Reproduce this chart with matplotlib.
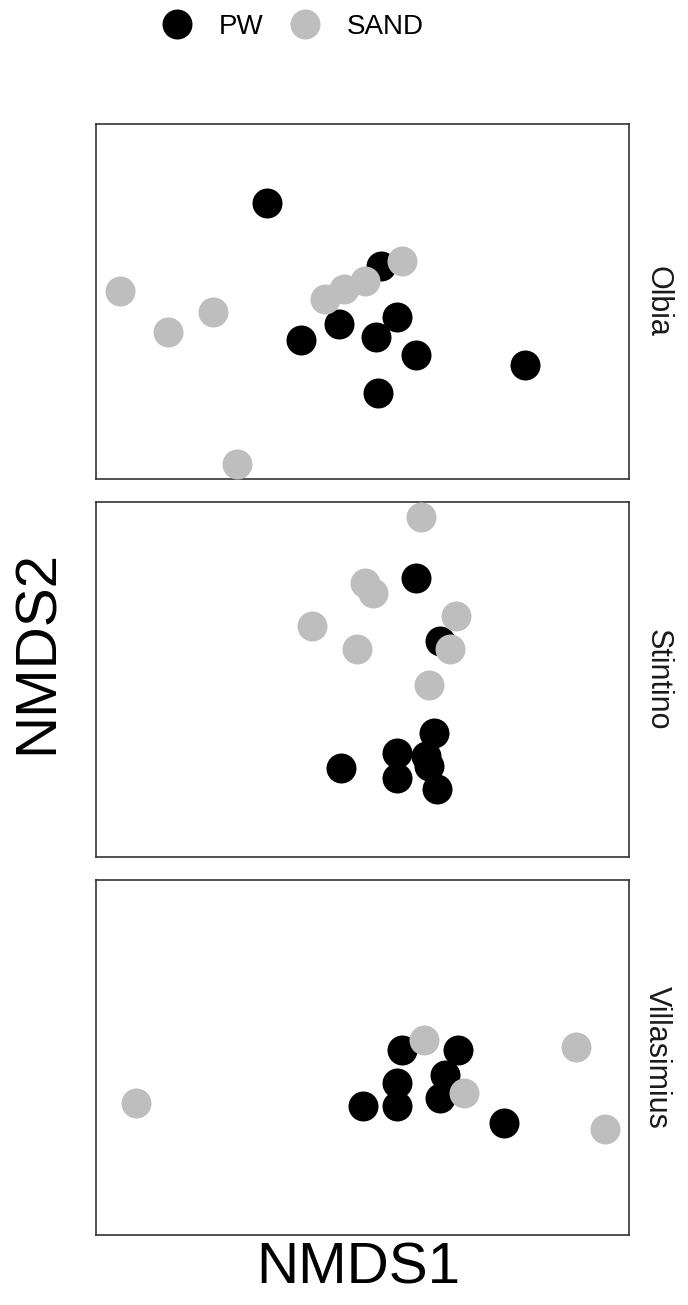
import matplotlib
matplotlib.use("Agg")
import matplotlib.pyplot as plt
from matplotlib.lines import Line2D

plt.rcParams['font.family'] = ['Liberation Sans', 'DejaVu Sans']

# NMDS scores, one facet per site
sites = ['Olbia', 'Stintino', 'Villasimius']

pw_x = {
    'Olbia': [-0.56, -0.13, -0.07, -0.29, -0.43, -0.15, 0.00, 0.41, -0.14],
    'Stintino': [0.00, 0.09, 0.07, -0.28, -0.07, 0.04, 0.05, -0.07, 0.08],
    'Villasimius': [-0.05, 0.16, 0.11, -0.07, -0.20, -0.07, 0.09, 0.33],
}
pw_y = {
    'Olbia': [0.39, 0.14, -0.06, -0.09, -0.15, -0.14, -0.21, -0.25, -0.36],
    'Stintino': [0.40, 0.15, -0.21, -0.35, -0.29, -0.30, -0.34, -0.39, -0.43],
    'Villasimius': [0.03, 0.03, -0.07, -0.10, -0.19, -0.19, -0.16, -0.26],
}
sand_x = {
    'Olbia': [-1.11, -0.93, -0.76, -0.67, -0.34, -0.27, -0.19, -0.05],
    'Stintino': [0.02, -0.19, -0.16, -0.39, -0.22, 0.15, 0.13, 0.05],
    'Villasimius': [0.03, 0.18, -1.05, 0.60, 0.71],
}
sand_y = {
    'Olbia': [0.04, -0.12, -0.04, -0.64, 0.01, 0.05, 0.08, 0.16],
    'Stintino': [0.64, 0.38, 0.34, 0.21, 0.12, 0.25, 0.12, -0.02],
    'Villasimius': [0.07, -0.14, -0.18, 0.04, -0.28],
}

pw_color = '#000000'
sand_color = '#bebebe'
msize = 21.6  # marker diameter in points

fig = plt.figure(figsize=(6.88, 13.05), dpi=100)

left, width, height = 96 / 688, 533 / 688, 355 / 1305
bottoms = [1 - 479 / 1305, 1 - 857 / 1305, 1 - 1235 / 1305]

for site, b in zip(sites, bottoms):
    ax = fig.add_axes([left, b, width, height])
    ax.scatter(pw_x[site], pw_y[site], s=msize ** 2, color=pw_color,
               linewidths=0, zorder=3, clip_on=False)
    ax.scatter(sand_x[site], sand_y[site], s=msize ** 2, color=sand_color,
               linewidths=0, zorder=3, clip_on=False)
    ax.set_xlim(-1.2, 0.8)
    ax.set_ylim(-0.7, 0.7)
    ax.set_xticks([])
    ax.set_yticks([])
    for sp in ax.spines.values():
        sp.set_color('#333333')
        sp.set_linewidth(1.2)
    # facet strip label on the right
    ax.text(1.053, 0.5, site, transform=ax.transAxes, rotation=-90,
            ha='center', va='center', fontsize=22, color='#1a1a1a')

fig.text(358 / 688, 1 - 1268 / 1305, 'NMDS1', ha='center', va='center',
         fontsize=42)
fig.text(38 / 688, 1 - 652 / 1305, 'NMDS2', ha='center', va='center',
         fontsize=42, rotation=90)

handles = [
    Line2D([], [], marker='o', linestyle='none', markersize=msize,
           markerfacecolor=pw_color, markeredgewidth=0, label='PW'),
    Line2D([], [], marker='o', linestyle='none', markersize=msize,
           markerfacecolor=sand_color, markeredgewidth=0, label='SAND'),
]
fig.legend(handles=handles, loc='center', ncol=2, frameon=False,
           bbox_to_anchor=(292 / 688, 1 - 27 / 1305), fontsize=20,
           handletextpad=0.9, columnspacing=0.9, handlelength=1.2)

fig.savefig('out.png', dpi=100)
